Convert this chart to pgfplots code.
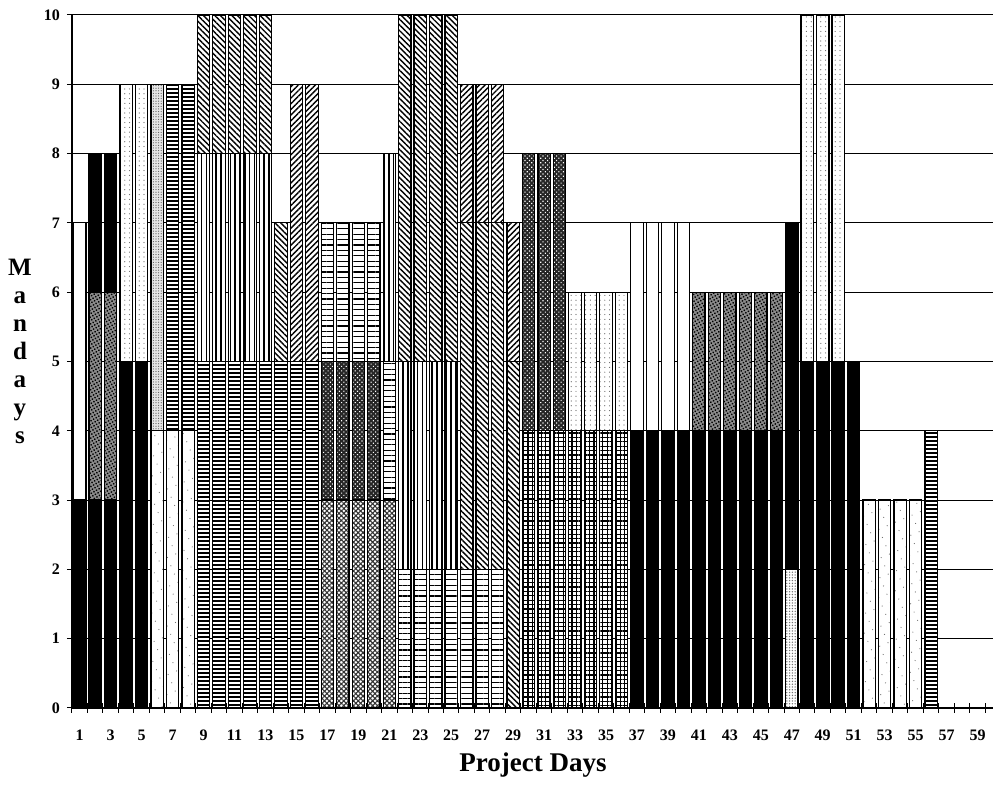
\documentclass[border=0pt]{standalone}
\usepackage{fontspec}
\setmainfont{Liberation Serif}
\usepackage{pgfplots}
\pgfplotsset{compat=1.18}
\usepackage{pgfplotstable}
\usetikzlibrary{patterns,patterns.meta}

\pgfplotstableread{
d lspk blk wdot hd lchk dchk hl grid vl nw ne fdot spk blkt wht dchkb ldot
1  0 3 0 0 0 0 0 0 0 0 0 0 0 0 4 0 0
2  0 3 0 0 0 0 0 0 0 0 0 0 3 2 0 0 0
3  0 3 0 0 0 0 0 0 0 0 0 0 3 2 0 0 0
4  0 5 0 0 0 0 0 0 0 0 0 0 0 0 0 0 4
5  0 5 0 0 0 0 0 0 0 0 0 0 0 0 0 0 4
6  0 0 4 0 0 0 0 0 0 0 0 5 0 0 0 0 0
7  0 0 4 5 0 0 0 0 0 0 0 0 0 0 0 0 0
8  0 0 4 5 0 0 0 0 0 0 0 0 0 0 0 0 0
9  0 0 0 5 0 0 0 0 3 2 0 0 0 0 0 0 0
10 0 0 0 5 0 0 0 0 3 2 0 0 0 0 0 0 0
11 0 0 0 5 0 0 0 0 3 2 0 0 0 0 0 0 0
12 0 0 0 5 0 0 0 0 3 2 0 0 0 0 0 0 0
13 0 0 0 5 0 0 0 0 3 2 0 0 0 0 0 0 0
14 0 0 0 5 0 0 0 0 0 2 0 0 0 0 0 0 0
15 0 0 0 5 0 0 0 0 0 0 4 0 0 0 0 0 0
16 0 0 0 5 0 0 0 0 0 0 4 0 0 0 0 0 0
17 0 0 0 0 3 2 2 0 0 0 0 0 0 0 0 0 0
18 0 0 0 0 3 2 2 0 0 0 0 0 0 0 0 0 0
19 0 0 0 0 3 2 2 0 0 0 0 0 0 0 0 0 0
20 0 0 0 0 3 2 2 0 0 0 0 0 0 0 0 0 0
21 0 0 0 0 3 0 2 0 3 0 0 0 0 0 0 0 0
22 0 0 0 0 0 0 2 0 3 5 0 0 0 0 0 0 0
23 0 0 0 0 0 0 2 0 3 5 0 0 0 0 0 0 0
24 0 0 0 0 0 0 2 0 3 5 0 0 0 0 0 0 0
25 0 0 0 0 0 0 2 0 3 5 0 0 0 0 0 0 0
26 0 0 0 0 0 0 2 0 0 5 2 0 0 0 0 0 0
27 0 0 0 0 0 0 2 0 0 5 2 0 0 0 0 0 0
28 0 0 0 0 0 0 2 0 0 5 2 0 0 0 0 0 0
29 0 0 0 0 0 0 0 0 0 5 2 0 0 0 0 0 0
30 0 0 0 0 0 0 0 4 0 0 0 0 0 0 0 4 0
31 0 0 0 0 0 0 0 4 0 0 0 0 0 0 0 4 0
32 0 0 0 0 0 0 0 4 0 0 0 0 0 0 0 4 0
33 0 0 0 0 0 0 0 4 0 0 0 0 0 0 0 0 2
34 0 0 0 0 0 0 0 4 0 0 0 0 0 0 0 0 2
35 0 0 0 0 0 0 0 4 0 0 0 0 0 0 0 0 2
36 0 0 0 0 0 0 0 4 0 0 0 0 0 0 0 0 2
37 0 4 0 0 0 0 0 0 0 0 0 0 0 0 3 0 0
38 0 4 0 0 0 0 0 0 0 0 0 0 0 0 3 0 0
39 0 4 0 0 0 0 0 0 0 0 0 0 0 0 3 0 0
40 0 4 0 0 0 0 0 0 0 0 0 0 0 0 3 0 0
41 0 4 0 0 0 0 0 0 0 0 0 0 2 0 0 0 0
42 0 4 0 0 0 0 0 0 0 0 0 0 2 0 0 0 0
43 0 4 0 0 0 0 0 0 0 0 0 0 2 0 0 0 0
44 0 4 0 0 0 0 0 0 0 0 0 0 2 0 0 0 0
45 0 4 0 0 0 0 0 0 0 0 0 0 2 0 0 0 0
46 0 4 0 0 0 0 0 0 0 0 0 0 2 0 0 0 0
47 2 5 0 0 0 0 0 0 0 0 0 0 0 0 0 0 0
48 0 5 0 0 0 0 0 0 0 0 0 0 0 0 0 0 5
49 0 5 0 0 0 0 0 0 0 0 0 0 0 0 0 0 5
50 0 5 0 0 0 0 0 0 0 0 0 0 0 0 0 0 5
51 0 5 0 0 0 0 0 0 0 0 0 0 0 0 0 0 0
52 0 0 3 0 0 0 0 0 0 0 0 0 0 0 0 0 0
53 0 0 3 0 0 0 0 0 0 0 0 0 0 0 0 0 0
54 0 0 3 0 0 0 0 0 0 0 0 0 0 0 0 0 0
55 0 0 3 0 0 0 0 0 0 0 0 0 0 0 0 0 0
56 0 0 0 4 0 0 0 0 0 0 0 0 0 0 0 0 0
57 0 0 0 0 0 0 0 0 0 0 0 0 0 0 0 0 0
58 0 0 0 0 0 0 0 0 0 0 0 0 0 0 0 0 0
59 0 0 0 0 0 0 0 0 0 0 0 0 0 0 0 0 0
}\data

\begin{document}
\begin{tikzpicture}
\begin{axis}[
  at={(0,0)}, anchor=south west,
  scale only axis, width=460.5pt, height=346.5pt,
  xmin=0.5, xmax=60, ymin=0, ymax=10,
  enlargelimits=false,
  ybar stacked, bar width=0.8,
  axis x line*=bottom, axis y line*=left,
  x axis line style={line width=0.9pt},
  y axis line style={line width=0.6pt},
  xtick={0.5,1.5,...,59.5},
  xticklabels={1,,3,,5,,7,,9,,11,,13,,15,,17,,19,,21,,23,,25,,27,,29,,31,,33,,35,,37,,39,,41,,43,,45,,47,,49,,51,,53,,55,,57,,59},
  ytick={0,1,...,10},
  tick align=center, major tick length=5pt,
  tick style={black, line width=0.5pt},
  ymajorgrids, major grid style={black, line width=0.5pt},
  /pgf/number format/assume math mode=true,
  xticklabel style={xshift=3.87pt, yshift=-5pt, font=\bfseries\fontsize{8}{9.5}\selectfont},
  yticklabel style={font=\bfseries\fontsize{8}{9.5}\selectfont},
  xlabel={Project Days},
  xlabel style={at={(axis description cs:0.5005,-0.082)}, anchor=center, font=\bfseries\fontsize{13.5}{16}\selectfont},
  ylabel={M\\a\\n\\d\\a\\y\\s},
  ylabel style={rotate=-90, at={(axis description cs:-0.0565,0.515)}, anchor=center, align=center, font=\bfseries\fontsize{12.5}{14}\selectfont},
  every axis plot/.append style={draw=black, line width=0.6pt},
]
% light speckle
\addplot[fill=white, postaction={pattern={Dots[distance=1.4pt,radius=0.38pt]}, pattern color=black!55}] table[x=d,y=lspk]{\data};
% black
\addplot[fill=black] table[x=d,y=blk]{\data};
% white with sparse dots
\addplot[fill=white, postaction={pattern={Dots[distance=4.5pt,radius=0.3pt,angle=23]}, pattern color=black!55}] table[x=d,y=wdot]{\data};
% dense horizontal dashes
\addplot[fill=white, postaction={pattern={Lines[angle=0,distance=2pt,line width=1pt]}, pattern color=black}] table[x=d,y=hd]{\data};
% light checker
\addplot[fill=white, postaction={pattern={Hatch[angle=45,distance=1.7pt,line width=0.55pt]}, pattern color=black!80}] table[x=d,y=lchk]{\data};
% dark checker
\addplot[fill=black!85, postaction={pattern={Dots[distance=1.6pt,radius=0.4pt,angle=45]}, pattern color=white}] table[x=d,y=dchk]{\data};
% horizontal lines
\addplot[fill=white, postaction={pattern={Lines[angle=0,distance=2.7pt,line width=0.65pt]}, pattern color=black}] table[x=d,y=hl]{\data};
% grid
\addplot[fill=white, postaction={pattern={Hatch[angle=0,distance=2.2pt,line width=0.55pt]}, pattern color=black}] table[x=d,y=grid]{\data};
% vertical lines
\addplot[fill=white, postaction={pattern={Lines[angle=90,distance=2.4pt,line width=0.8pt]}, pattern color=black}] table[x=d,y=vl]{\data};
% north west lines
\addplot[fill=white, postaction={pattern={Lines[angle=-45,distance=2pt,line width=0.7pt]}, pattern color=black}] table[x=d,y=nw]{\data};
% north east lines
\addplot[fill=white, postaction={pattern={Lines[angle=45,distance=2pt,line width=0.7pt]}, pattern color=black}] table[x=d,y=ne]{\data};
% fine dots
\addplot[fill=black!10, postaction={pattern={Dots[distance=1.3pt,radius=0.3pt]}, pattern color=black!65}] table[x=d,y=fdot]{\data};
% dark speckle
\addplot[fill=black!45, postaction={pattern={Dots[distance=1.5pt,radius=0.5pt,angle=30]}, pattern color=black}] table[x=d,y=spk]{\data};
% black (top)
\addplot[fill=black] table[x=d,y=blkt]{\data};
% white
\addplot[fill=white] table[x=d,y=wht]{\data};
% dark checker (second task)
\addplot[fill=black!85, postaction={pattern={Dots[distance=1.6pt,radius=0.4pt,angle=45]}, pattern color=white}] table[x=d,y=dchkb]{\data};
% light dots
\addplot[fill=white, postaction={pattern={Dots[distance=2.4pt,radius=0.3pt]}, pattern color=black!60}] table[x=d,y=ldot]{\data};
\end{axis}
\pgfresetboundingbox
\path[use as bounding box] (-36pt,-38.5pt) rectangle (460.5pt,354pt);
\end{tikzpicture}
\end{document}
